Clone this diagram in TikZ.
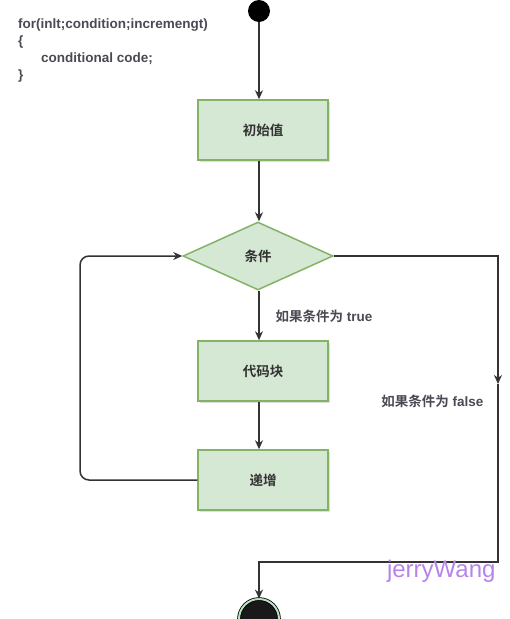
\documentclass[tikz,border=0pt]{standalone}
\usepackage{fontspec}
\setmainfont{Liberation Sans}
\newfontfamily\cjk{Noto Sans CJK SC}[BoldFont={* Bold}]
\usetikzlibrary{shapes.geometric,arrows.meta,shadows}
\definecolor{boxfill}{HTML}{D5E8D4}
\definecolor{boxline}{HTML}{82B366}
\definecolor{ink}{HTML}{333333}
\definecolor{note}{HTML}{4A4A55}
\definecolor{ringgreen}{HTML}{B9E0C0}
\definecolor{markpurple}{RGB}{182,132,232}
\tikzset{
  stepbox/.style={rectangle,draw=boxline,fill=boxfill,line width=1.5pt,
    minimum width=130pt,minimum height=60pt,inner sep=0pt,text=ink,
    font=\cjk\fontsize{13.5}{15}\selectfont\bfseries,
    drop shadow={opacity=0.25,shadow xshift=1.5pt,shadow yshift=-1.5pt}},
  testbox/.style={diamond,draw=boxline,fill=boxfill,line width=1.5pt,
    minimum width=150pt,minimum height=68pt,inner sep=0pt,aspect=2.2,text=ink,
    font=\cjk\fontsize{13.5}{15}\selectfont\bfseries},
  flow/.style={draw=ink,line width=1.5pt,-{Stealth[length=9pt,width=8pt]}},
  branch/.style={text=note,font=\fontsize{13.5}{15}\selectfont\bfseries}
}
\begin{document}
\begin{tikzpicture}[x=1pt,y=-1pt]
\useasboundingbox (0,0) rectangle (510,619);
% code
\node[anchor=north west,align=left,text=note,inner sep=0pt,
  font=\fontsize{13.5}{17}\selectfont\bfseries] (code) at (18,19)
  {for(inlt;condition;incremengt)\\
   \{\\
   \hspace{23pt}conditional code;\\
   \}};
% nodes
\node[circle,fill=black,minimum size=22pt,inner sep=0pt] (start) at (259,11) {};
\node[stepbox] (init) at (263,130) {初始值};
\node[testbox] (cond) at (258,256) {条件};
\node[stepbox] (body) at (263,371) {代码块};
\node[stepbox] (incr) at (263,480) {递增};
\node[circle,draw=black,double=ringgreen,line width=0.8pt,double distance=2pt,
  fill=black!90,minimum size=40pt,inner sep=0pt] (stop) at (259,619) {};
\coordinate (loopl) at (80,256);
\coordinate (fmid) at (498,384);
\coordinate (fbend) at (259,562);
% connectors
\draw[flow] (start) -- (start |- init.north);
\draw[flow] (init.south -| start) -- (cond.north -| start);
\draw[flow] (cond.south -| start) -- (body.north -| start);
\draw[flow] (body.south -| start) -- (incr.north -| start);
\draw[flow,rounded corners=9pt] (incr.west) -| (loopl) -- (cond.west);
\draw[flow] (cond.east) -| (fmid);
\draw[flow] (fmid) |- (fbend) -- (stop.north);
% labels
\node[branch,anchor=west] (yes) at (272,316) {{\cjk 如果条件为} true};
\node[branch,anchor=east] (no) at (487,401) {{\cjk 如果条件为} false};
\node[anchor=east,text=markpurple,font=\fontsize{24}{26}\selectfont] (mark) at (499,571) {jerryWang};
\end{tikzpicture}
\end{document}
